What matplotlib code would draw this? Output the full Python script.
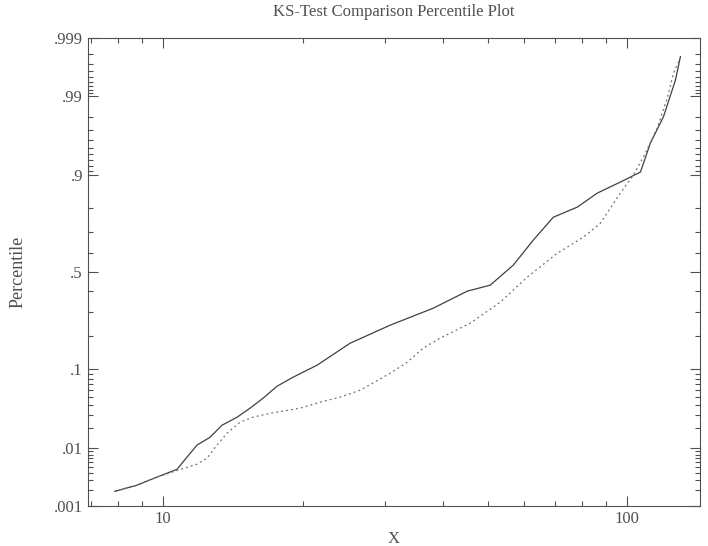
import math

import matplotlib

matplotlib.use("Agg")
import matplotlib.pyplot as plt
import numpy as np
from matplotlib.ticker import FixedLocator, FuncFormatter, LogLocator, NullFormatter

x_a = [7.88, 8.79, 9.71, 10.72, 11.27, 11.84, 12.63, 13.40, 14.44, 15.40,
       16.43, 17.61, 19.06, 21.47, 25.29, 30.85, 38.19, 45.20, 50.67, 56.80,
       62.72, 69.26, 78.02, 86.17, 96.58, 106.7, 112.1, 119.6, 126.9, 130.1]
p_a = [0.0019, 0.00245, 0.0034, 0.0046, 0.0073, 0.0112, 0.0146, 0.0216, 0.0277, 0.0362,
       0.048, 0.066, 0.0827, 0.1096, 0.174, 0.242, 0.317, 0.401, 0.432, 0.537,
       0.664, 0.766, 0.805, 0.852, 0.883, 0.907, 0.956, 0.980, 0.9944, 0.9978]

x_b = [7.88, 8.79, 9.71, 10.72, 11.84, 12.44, 13.07, 13.74, 14.66, 15.63,
       17.01, 19.74, 21.79, 24.07, 26.58, 30.85, 33.57, 36.34, 39.54, 45.87,
       53.25, 60.88, 70.66, 80.39, 87.46, 96.58, 103.0, 108.3, 116.1, 122.0,
       125.7, 130.1]
p_b = [0.0019, 0.00245, 0.0034, 0.0044, 0.0056, 0.0070, 0.0112, 0.0167, 0.0238, 0.0277,
       0.0312, 0.0362, 0.043, 0.0494, 0.0595, 0.091, 0.117, 0.158, 0.192, 0.250,
       0.346, 0.474, 0.599, 0.678, 0.741, 0.852, 0.900, 0.936, 0.972, 0.9896,
       0.9957, 0.9977]

pct_major = [0.001, 0.01, 0.1, 0.5, 0.9, 0.99, 0.999]
pct_minor = ([0.002, 0.003, 0.004, 0.005, 0.006, 0.007, 0.008, 0.009]
             + [0.02, 0.03, 0.04, 0.05, 0.06, 0.07, 0.08, 0.09]
             + [0.2, 0.3, 0.4, 0.6, 0.7, 0.8]
             + [0.91, 0.92, 0.93, 0.94, 0.95, 0.96, 0.97, 0.98]
             + [0.991, 0.992, 0.993, 0.994, 0.995, 0.996, 0.997, 0.998])


def norm_ppf(p):
    # Acklam's rational approximation of the inverse normal cdf
    p = np.clip(np.asarray(p, dtype=float), 1e-12, 1 - 1e-12)
    a = [-3.969683028665376e+01, 2.209460984245205e+02, -2.759285104469687e+02,
         1.383577518672690e+02, -3.066479806614716e+01, 2.506628277459239e+00]
    b = [-5.447609879822406e+01, 1.615858368580409e+02, -1.556989798598866e+02,
         6.680131188771972e+01, -1.328068155288572e+01]
    c = [-7.784894002430293e-03, -3.223964580411365e-01, -2.400758277161838e+00,
         -2.549732539343734e+00, 4.374664141464968e+00, 2.938163982698783e+00]
    d = [7.784695709041462e-03, 3.224671290700398e-01, 2.445134137142996e+00,
         3.754408661907416e+00]
    lo, hi = 0.02425, 1 - 0.02425
    out = np.empty_like(p)
    m = p < lo
    q = np.sqrt(-2 * np.log(p[m]))
    out[m] = (((((c[0]*q+c[1])*q+c[2])*q+c[3])*q+c[4])*q+c[5]) / ((((d[0]*q+d[1])*q+d[2])*q+d[3])*q+1)
    m = p > hi
    q = np.sqrt(-2 * np.log(1 - p[m]))
    out[m] = -(((((c[0]*q+c[1])*q+c[2])*q+c[3])*q+c[4])*q+c[5]) / ((((d[0]*q+d[1])*q+d[2])*q+d[3])*q+1)
    m = (p >= lo) & (p <= hi)
    q = p[m] - 0.5
    r = q * q
    out[m] = (((((a[0]*r+a[1])*r+a[2])*r+a[3])*r+a[4])*r+a[5])*q / (((((b[0]*r+b[1])*r+b[2])*r+b[3])*r+b[4])*r+1)
    return out


_erf = np.vectorize(math.erf)


def norm_cdf(z):
    return 0.5 * (1 + _erf(np.asarray(z, dtype=float) / math.sqrt(2)))


plt.rcParams["font.family"] = ["Liberation Serif", "DejaVu Serif"]
ink = "#505050"

fig = plt.figure(figsize=(7.08, 5.46), dpi=100)
ax = fig.add_axes([0.124, 0.073, 0.865, 0.857])

ax.set_xscale("log")
ax.set_yscale("function", functions=(norm_ppf, norm_cdf))

ax.plot(x_a, p_a, color="#404040", linewidth=0.9, linestyle="-")
ax.plot(x_b, p_b, color="#707070", linewidth=0.9, linestyle=(0, (1.5, 2.5)))

ax.set_xlim(6.89, 143.5)
ax.set_ylim(0.001, 0.999)

ax.yaxis.set_major_locator(FixedLocator(pct_major))
ax.yaxis.set_minor_locator(FixedLocator(pct_minor))
ax.yaxis.set_major_formatter(FuncFormatter(lambda v, _: f"{v:g}".lstrip("0")))
ax.yaxis.set_minor_formatter(NullFormatter())

ax.xaxis.set_major_locator(LogLocator(base=10))
ax.xaxis.set_minor_locator(LogLocator(base=10, subs=np.arange(2, 10)))
ax.xaxis.set_major_formatter(FuncFormatter(lambda v, _: f"{v:g}"))
ax.xaxis.set_minor_formatter(NullFormatter())

ax.tick_params(which="both", direction="in", top=True, right=True,
               colors=ink, labelsize=12, width=0.8)
ax.tick_params(which="major", length=7)
ax.tick_params(which="minor", length=3.5)
for spine in ax.spines.values():
    spine.set_color(ink)
    spine.set_linewidth(0.8)

ax.set_xlabel("X", fontsize=12, color=ink, labelpad=3)
ax.set_ylabel("Percentile", fontsize=13, color=ink, labelpad=20)
ax.set_title("KS-Test Comparison Percentile Plot", fontsize=12, color=ink, pad=16)

fig.savefig("out.png", dpi=100)
